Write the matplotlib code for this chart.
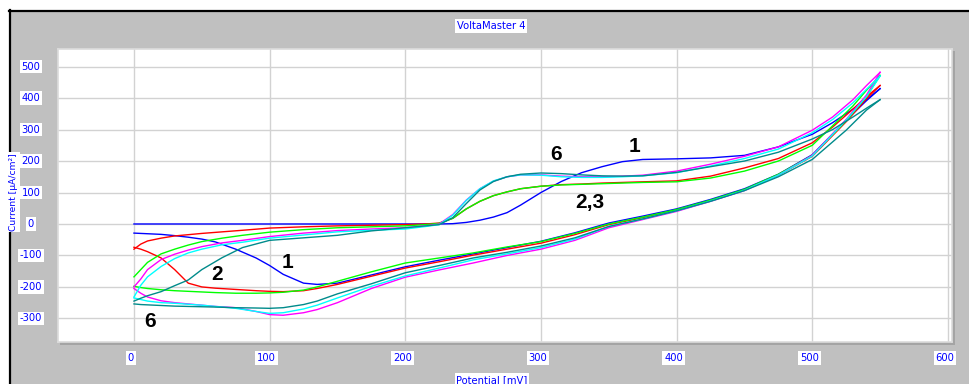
import matplotlib
matplotlib.use("Agg")
import matplotlib.pyplot as plt
from matplotlib.patches import Rectangle
from matplotlib.lines import Line2D

# ---------------- data: cyclic voltammograms, cycles 1..6 ----------------
# forward (anodic) sweep potentials, mV
fwd_pot = [0, 5, 10, 20, 30, 40, 50, 65, 80, 100, 125, 150, 175, 200, 215, 225,
           235, 245, 255, 265, 275, 285, 300, 315, 330, 345, 360, 375, 400, 425,
           450, 475, 500, 515, 530, 540, 550]
# reverse (cathodic) sweep potentials, mV
rev_pot = [550, 540, 525, 500, 475, 450, 425, 400, 375, 350, 325, 300, 275, 250,
           225, 200, 175, 150, 135, 125, 110, 100, 90, 75, 60, 50, 40, 30, 20,
           10, 5, 0]

# current density, uA/cm2
fwd_c1 = [0, 0, 0, 0, 0, 0, 0, 0, 0, 0, 0, 0, 0, 0, 0, 0,
          1, 5, 12, 22, 36, 60, 100, 135, 163, 182, 198, 205, 207, 210,
          218, 245, 285, 322, 365, 395, 430]
rev_c1 = [430, 392, 330, 220, 158, 112, 78, 48, 25, 3, -28, -55, -75, -95,
          -115, -136, -162, -188, -192, -188, -160, -132, -108, -80, -57, -48,
          -42, -37, -33, -31, -30, -29]

fwd_c2 = [-80, -64, -54, -45, -38, -34, -30, -25, -20, -13, -9, -6, -4, -2, 0, 3,
          18, 48, 72, 90, 102, 112, 120, 125, 127, 130, 132, 134, 137, 152,
          178, 208, 258, 308, 365, 405, 440]
rev_c2 = [440, 398, 325, 215, 155, 108, 74, 44, 20, -2, -34, -61, -80, -99,
          -120, -140, -166, -192, -205, -212, -215, -214, -212, -208, -204,
          -200, -188, -145, -108, -88, -80, -74]

fwd_c3 = [-168, -145, -122, -95, -80, -67, -56, -45, -36, -26, -18, -12, -9, -6, -2, 2,
          18, 48, 72, 90, 102, 112, 120, 124, 126, 128, 130, 132, 134, 146,
          168, 200, 250, 312, 375, 425, 472]
rev_c3 = [472, 405, 328, 218, 158, 110, 76, 46, 22, 0, -30, -56, -73, -92,
          -108, -124, -152, -182, -200, -210, -217, -219, -220, -220, -218,
          -216, -214, -212, -209, -205, -202, -198]

fwd_c4 = [-200, -175, -145, -113, -96, -83, -72, -60, -52, -40, -29, -21, -16, -12, -6, 0,
          30, 76, 112, 136, 150, 156, 156, 152, 150, 150, 152, 155, 168, 190,
          215, 245, 298, 340, 395, 440, 482]
rev_c4 = [482, 410, 332, 218, 155, 106, 72, 40, 14, -12, -52, -80, -100, -124,
          -146, -169, -205, -250, -272, -282, -290, -288, -278, -266, -262,
          -258, -254, -250, -244, -232, -220, -205]

fwd_c5 = [-232, -195, -168, -135, -110, -92, -80, -66, -58, -45, -35, -25, -20, -16, -8, -2,
          28, 75, 112, 137, 150, 156, 155, 150, 148, 148, 150, 153, 163, 184,
          208, 238, 290, 332, 385, 428, 470]
rev_c5 = [470, 405, 330, 216, 155, 107, 73, 42, 16, -8, -48, -75, -95, -114,
          -140, -165, -198, -235, -258, -270, -282, -284, -278, -268, -262,
          -258, -255, -252, -250, -245, -240, -235]

fwd_c6 = [-245, -236, -228, -215, -196, -178, -145, -107, -75, -52, -44, -36, -22, -12, -6, -2,
          20, 65, 108, 135, 150, 158, 162, 160, 156, 153, 152, 153, 164, 182,
          200, 228, 270, 300, 340, 368, 395]
rev_c6 = [395, 362, 298, 205, 150, 106, 72, 42, 16, -8, -44, -70, -90, -108,
          -132, -155, -190, -222, -245, -256, -266, -268, -267, -266, -264,
          -263, -262, -261, -259, -257, -256, -254]

cycle_colors = ['#0000ff', '#ff0000', '#00ff00', '#ff00ff', '#00ffff', '#008b8b']
forward = [fwd_c1, fwd_c2, fwd_c3, fwd_c4, fwd_c5, fwd_c6]
reverse = [rev_c1, rev_c2, rev_c3, rev_c4, rev_c5, rev_c6]

x_ticks = [0, 100, 200, 300, 400, 500, 600]
y_ticks = [-300, -200, -100, 0, 100, 200, 300, 400, 500]

# cycle number labels: (text, potential, current)
cycle_labels = [("6", 311, 222), ("1", 369, 245), ("2,3", 336, 67),
                ("2", 61, -159), ("1", 113, -121), ("6", 12, -311)]

# ---------------- figure ----------------
W, H = 969, 384
fig = plt.figure(figsize=(W / 100, H / 100), dpi=100)
fig.patch.set_facecolor('white')

def fx(px):
    return px / W

def fy(py):
    return 1 - py / H

# gray window panel with black frame on left and top
fig.add_artist(Rectangle((fx(9), 0), 1 - fx(9), fy(10), transform=fig.transFigure,
                         facecolor='#c0c0c0', edgecolor='none', zorder=0))
fig.add_artist(Line2D([fx(9.5), fx(9.5)], [0, fy(10)], color='black', lw=1.6,
                      transform=fig.transFigure, zorder=1))
fig.add_artist(Line2D([fx(9), 1], [fy(10.5), fy(10.5)], color='black', lw=1.6,
                      transform=fig.transFigure, zorder=1))
# shadow below/right of the plot area
fig.add_artist(Rectangle((fx(60), fy(345)), fx(955) - fx(60), fy(51) - fy(345),
                         transform=fig.transFigure, facecolor='#a4a4a4',
                         edgecolor='none', zorder=1))

ax = fig.add_axes([fx(58), fy(342), fx(952) - fx(58), fy(49) - fy(342)])
ax.set_zorder(2)
ax.set_facecolor('white')
ax.set_xlim(-56, 603)
ax.set_ylim(-375, 556)
ax.set_xticks(x_ticks)
ax.set_yticks(y_ticks)
ax.tick_params(length=0, labelbottom=False, labelleft=False)
ax.grid(True, color='#d2d2d2', lw=1.0)
ax.set_axisbelow(True)
for s in ax.spines.values():
    s.set_color('#dcdcdc')
    s.set_linewidth(1.2)

for col, fw, rv in zip(cycle_colors, forward, reverse):
    ax.plot(fwd_pot, fw, color=col, lw=1.0, zorder=3)
    ax.plot(rev_pot, rv, color=col, lw=1.0, zorder=3)

for txt, px, cy in cycle_labels:
    ax.text(px, cy, txt, ha='center', va='center', fontsize=15,
            fontweight='bold', family='Liberation Sans', color='black', zorder=4)

# tick labels in white boxes
box = dict(facecolor='white', edgecolor='none', pad=1.3)
lab_font = dict(color='#0000ff', fontsize=7.2, family='DejaVu Sans')
for v in x_ticks:
    xd, _ = ax.transData.transform((v, 0))
    fig.text(fx(xd - 3), fy(358), str(v), ha='center', va='center', bbox=box, **lab_font)
for v in y_ticks:
    _, yd = ax.transData.transform((0, v))
    fig.text(fx(31), yd / H, str(v), ha='center', va='center', bbox=box, **lab_font)

fig.text(fx(491), fy(26), 'VoltaMaster 4', ha='center', va='center', bbox=box, **lab_font)
fig.text(fx(492), fy(380), 'Potential [mV]', ha='center', va='center', bbox=box, **lab_font)
fig.text(fx(14), fy(192), 'Current [µA/cm²]', ha='center', va='center', rotation=90,
         color='#0000ff', fontsize=6.6, family='DejaVu Sans',
         bbox=dict(facecolor='white', edgecolor='none', pad=0.8))

fig.savefig('out.png', dpi=100, facecolor=fig.get_facecolor())
